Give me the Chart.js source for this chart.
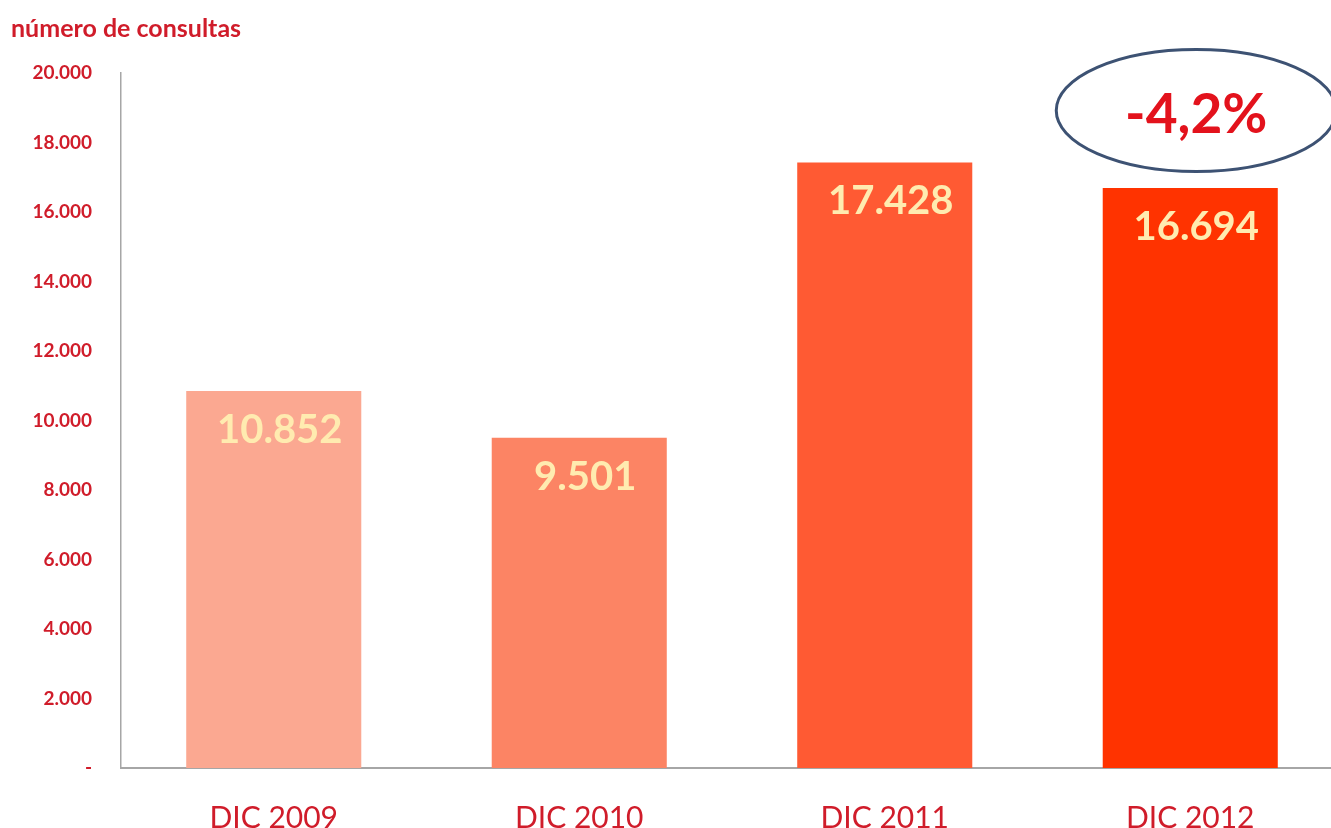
<!DOCTYPE html>
<html>
<head>
<meta charset="utf-8">
<script src="https://cdn.jsdelivr.net/npm/chart.js@4.4.1/dist/chart.umd.min.js"></script>
<style>
html,body{margin:0;padding:0;background:#fff;overflow:hidden;}
#wrap{position:absolute;left:0;top:0;}
</style>
</head>
<body>
<div id="wrap"><canvas id="c" width="1343" height="828"></canvas></div>
<script>
const categories = ['DIC 2009', 'DIC 2010', 'DIC 2011', 'DIC 2012'];
const consultas = [10852, 9501, 17428, 16694];
const valueLabels = ['10.852', '9.501', '17.428', '16.694'];
const barColors = ['#FBA891', '#FC8464', '#FF5A33', '#FF3300'];
const yTicks = [0, 2000, 4000, 6000, 8000, 10000, 12000, 14000, 16000, 18000, 20000];
const titleText = 'número de consultas';
const changeText = '-4,2%';

const RED = '#D01C2A';

function fmt(v){
  if (v === 0) return '-';
  const s = String(v);
  return s.replace(/\B(?=(\d{3})+(?!\d))/g, '.');
}

const extras = {
  id: 'extras',
  afterDatasetsDraw(chart){
    const ctx = chart.ctx;
    const meta = chart.getDatasetMeta(0);
    ctx.save();
    // value labels inside bars
    ctx.font = 'bold 40px Lato';
    ctx.fillStyle = '#FFEBB0';
    ctx.textAlign = 'center';
    ctx.textBaseline = 'middle';
    meta.data.forEach((bar, i) => {
      ctx.fillText(valueLabels[i], bar.x + 6, bar.y + 39);
    });
    // title
    ctx.font = 'bold 25px Lato';
    ctx.fillStyle = RED;
    ctx.textAlign = 'left';
    ctx.fillText(titleText, 11, 29);
    // ellipse callout over last bar
    const last = meta.data[meta.data.length - 1];
    const ys = chart.scales.y;
    const cx = last.x + 6;
    const cy = ys.getPixelForValue(18920);
    ctx.beginPath();
    ctx.ellipse(cx, cy, 140, 61, 0, 0, Math.PI * 2);
    ctx.lineWidth = 3;
    ctx.strokeStyle = '#3D5273';
    ctx.stroke();
    ctx.font = 'bold 55px Lato';
    ctx.fillStyle = '#E3121C';
    ctx.textAlign = 'center';
    ctx.textBaseline = 'alphabetic';
    ctx.fillText(changeText, cx, cy + 22);
    ctx.restore();
  }
};

new Chart(document.getElementById('c'), {
  type: 'bar',
  data: {
    labels: categories,
    datasets: [{
      data: consultas,
      backgroundColor: barColors,
      borderWidth: 0,
      categoryPercentage: 1,
      barPercentage: 0.573
    }]
  },
  options: {
    responsive: false,
    animation: false,
    layout: { padding: { top: 73, left: 0, right: 0, bottom: 0 } },
    plugins: { legend: { display: false }, tooltip: { enabled: false }, title: { display: false } },
    scales: {
      x: {
        grid: { display: false, drawTicks: false },
        border: { display: true, color: '#A6A6A6', width: 2 },
        ticks: { color: RED, font: { family: 'Lato', size: 30 }, padding: 32 },
        afterFit(s){ s.height = 60; }
      },
      y: {
        min: 0, max: 20000,
        afterBuildTicks(s){ s.ticks = yTicks.map(v => ({ value: v })); },
        grid: { display: false, drawTicks: false },
        border: { display: true, color: '#A6A6A6', width: 1.5 },
        ticks: { color: RED, font: { family: 'Lato', size: 19, weight: 'bold' }, padding: 29, callback: v => fmt(v) },
        afterFit(s){ s.width = 121; }
      }
    }
  },
  plugins: [extras]
});
</script>
</body>
</html>
